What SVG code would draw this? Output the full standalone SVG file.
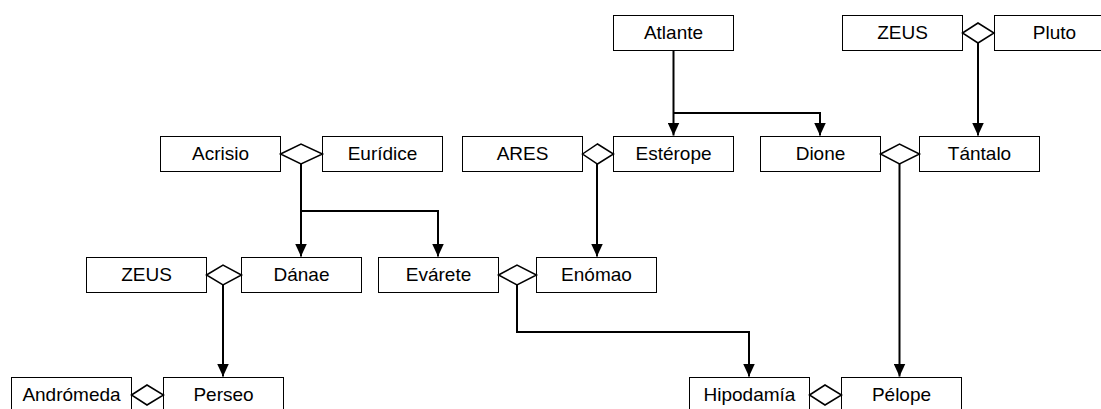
<svg xmlns="http://www.w3.org/2000/svg" width="1101" height="409" viewBox="0 0 1101 409">
  <style>
    .box { fill: #ffffff; stroke: #000000; stroke-width: 1; }
    .dia { fill: #ffffff; stroke: #000000; stroke-width: 1.5; stroke-linejoin: miter; }
    .lbl { font-family: "Liberation Sans", Arial, sans-serif; font-size: 19px; fill: #000000; text-anchor: middle; }
    .link { fill: none; stroke: #000000; stroke-width: 2; }
  </style>
  <defs>
    <marker id="arrow" markerUnits="userSpaceOnUse" markerWidth="13" markerHeight="12" refX="13" refY="6" orient="auto">
      <path d="M0,0 L13,6 L0,12 z" fill="#000000"/>
    </marker>
  </defs>
  <rect width="1101" height="409" fill="#ffffff"/>

  <!-- connectors: parent couple (or single parent) to child -->
  <g id="connectors">
    <path class="link" d="M673.5,50 V135.5" marker-end="url(#arrow)"/>
    <path class="link" d="M673.5,113 H820 V135.5" marker-end="url(#arrow)"/>
    <path class="link" d="M978,42.5 V135.5" marker-end="url(#arrow)"/>
    <path class="link" d="M301,163.5 V256.5" marker-end="url(#arrow)"/>
    <path class="link" d="M301,211 H438 V256.5" marker-end="url(#arrow)"/>
    <path class="link" d="M597,163.5 V256.5" marker-end="url(#arrow)"/>
    <path class="link" d="M899.5,163.5 V376.5" marker-end="url(#arrow)"/>
    <path class="link" d="M223,284.5 V376.5" marker-end="url(#arrow)"/>
    <path class="link" d="M517,284.5 V332 H749 V376.5" marker-end="url(#arrow)"/>
  </g>

  <!-- top row -->
  <g id="atlante"><rect class="box" x="613.5" y="15.5" width="120" height="35"/><text class="lbl" x="673.5" y="39">Atlante</text></g>
  <g id="zeus-top"><rect class="box" x="842.5" y="15.5" width="120" height="35"/><text class="lbl" x="902.5" y="39">ZEUS</text></g>
  <g id="pluto"><rect class="box" x="994.5" y="15.5" width="120" height="35"/><text class="lbl" x="1054.5" y="39">Pluto</text></g>
  <g id="union-zeus-pluto"><polygon class="dia" points="962.5,33 978,23 994,33 978,43"/></g>

  <!-- second row -->
  <g id="acrisio"><rect class="box" x="160.5" y="136.5" width="120" height="35"/><text class="lbl" x="220.5" y="160">Acrisio</text></g>
  <g id="euridice"><rect class="box" x="322.5" y="136.5" width="120" height="35"/><text class="lbl" x="382.5" y="160">Eurídice</text></g>
  <g id="union-acrisio-euridice"><polygon class="dia" points="280.5,154 301,144 322.5,154 301,164"/></g>
  <g id="ares"><rect class="box" x="462.5" y="136.5" width="120" height="35"/><text class="lbl" x="522.5" y="160">ARES</text></g>
  <g id="esterope"><rect class="box" x="613.5" y="136.5" width="120" height="35"/><text class="lbl" x="673.5" y="160">Estérope</text></g>
  <g id="union-ares-esterope"><polygon class="dia" points="582.5,154 597.5,144 613.5,154 597.5,164"/></g>
  <g id="dione"><rect class="box" x="760.5" y="136.5" width="120" height="35"/><text class="lbl" x="820.5" y="160">Dione</text></g>
  <g id="tantalo"><rect class="box" x="919.5" y="136.5" width="120" height="35"/><text class="lbl" x="979.5" y="160">Tántalo</text></g>
  <g id="union-dione-tantalo"><polygon class="dia" points="880.5,154 899.5,144 919.5,154 899.5,164"/></g>

  <!-- third row -->
  <g id="zeus-left"><rect class="box" x="86.5" y="257.5" width="120" height="35"/><text class="lbl" x="146.5" y="281">ZEUS</text></g>
  <g id="danae"><rect class="box" x="241.5" y="257.5" width="120" height="35"/><text class="lbl" x="301.5" y="281">Dánae</text></g>
  <g id="union-zeus-danae"><polygon class="dia" points="206.5,275 223,265 241.5,275 223,285"/></g>
  <g id="evarete"><rect class="box" x="378.5" y="257.5" width="120" height="35"/><text class="lbl" x="438.5" y="281">Evárete</text></g>
  <g id="enomao"><rect class="box" x="536.5" y="257.5" width="120" height="35"/><text class="lbl" x="596.5" y="281">Enómao</text></g>
  <g id="union-evarete-enomao"><polygon class="dia" points="498.5,275 517,265 536.5,275 517,285"/></g>

  <!-- bottom row -->
  <g id="andromeda"><rect class="box" x="11.5" y="377.5" width="120" height="35"/><text class="lbl" x="71.5" y="401">Andrómeda</text></g>
  <g id="perseo"><rect class="box" x="163.5" y="377.5" width="120" height="35"/><text class="lbl" x="223.5" y="401">Perseo</text></g>
  <g id="union-andromeda-perseo"><polygon class="dia" points="131.5,395 147,385 163.5,395 147,405"/></g>
  <g id="hipodamia"><rect class="box" x="689.5" y="377.5" width="120" height="35"/><text class="lbl" x="749.5" y="401">Hipodamía</text></g>
  <g id="pelope"><rect class="box" x="841.5" y="377.5" width="120" height="35"/><text class="lbl" x="901.5" y="401">Pélope</text></g>
  <g id="union-hipodamia-pelope"><polygon class="dia" points="809.5,395 825,385 841.5,395 825,405"/></g>
</svg>
